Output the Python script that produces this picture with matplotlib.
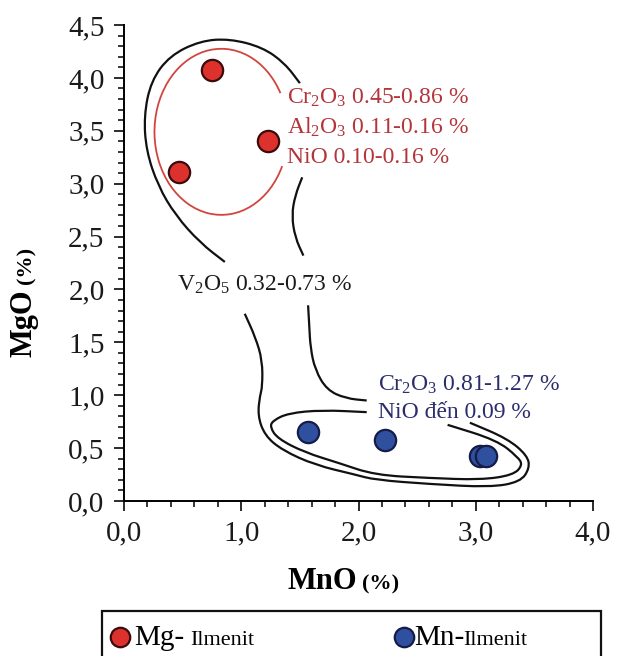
import matplotlib
matplotlib.use('Agg')
import matplotlib.pyplot as plt
from matplotlib.path import Path
from matplotlib.patches import PathPatch, Arc, Rectangle
from matplotlib.lines import Line2D
from matplotlib.ticker import MultipleLocator

plt.rcParams['font.family'] = ['Liberation Serif', 'DejaVu Serif']
plt.rcParams['mathtext.default'] = 'regular'

# Mg-Ilmenit and Mn-Ilmenit points (MnO %, MgO %)
mg_mno = [0.75, 1.23, 0.47]
mg_mgo = [4.07, 3.40, 3.11]
mn_mno = [1.57, 2.23, 3.04, 3.09]
mn_mgo = [0.65, 0.575, 0.43, 0.43]

x_ticks = [0, 1, 2, 3, 4]
x_labels = ['0,0', '1,0', '2,0', '3,0', '4,0']
y_ticks = [0, 0.5, 1.0, 1.5, 2.0, 2.5, 3.0, 3.5, 4.0, 4.5]
y_labels = ['0,0', '0,5', '1,0', '1,5', '2,0', '2,5', '3,0', '3,5', '4,0', '4,5']

# field outlines (MnO, MgO)
outer_top = [(1.50, 3.95), (1.37, 4.14), (1.18, 4.29), (0.90, 4.37), (0.65, 4.35),
             (0.39, 4.21), (0.23, 3.97), (0.17, 3.64), (0.19, 3.31), (0.29, 2.98),
             (0.44, 2.70), (0.65, 2.44), (0.86, 2.26)]
outer_mid = [(1.52, 3.06), (1.46, 2.89), (1.43, 2.70), (1.46, 2.49), (1.53, 2.32)]
right_line = [(1.57, 1.85), (1.58, 1.66), (1.59, 1.45), (1.63, 1.24), (1.73, 1.05),
              (1.89, 0.97), (2.07, 0.95)]
outer_low = [(2.95, 0.74), (3.27, 0.59), (3.44, 0.43), (3.46, 0.31), (3.38, 0.18),
             (3.12, 0.13), (2.61, 0.16), (2.14, 0.20), (1.97, 0.25), (1.63, 0.34),
             (1.35, 0.48), (1.20, 0.62), (1.14, 0.81), (1.16, 1.00), (1.18, 1.08),
             (1.18, 1.33), (1.12, 1.55), (1.03, 1.77)]
inner_low = [(2.07, 0.84), (1.69, 0.86), (1.40, 0.83), (1.27, 0.76), (1.245, 0.70),
             (1.31, 0.59), (1.54, 0.46), (1.83, 0.36), (2.14, 0.245), (2.61, 0.217),
             (3.04, 0.20), (3.32, 0.245), (3.40, 0.34), (3.36, 0.415), (3.18, 0.575),
             (2.76, 0.72)]

red_text = [r'Cr$_2$O$_3$ 0.45-0.86 %', r'Al$_2$O$_3$ 0.11-0.16 %', 'NiO 0.10-0.16 %']
blue_text = [r'Cr$_2$O$_3$ 0.81-1.27 %', 'NiO đến 0.09 %']
v_text = r'V$_2$O$_5$ 0.32-0.73 %'

red_fill, red_edge = '#dc312d', '#3a0c0c'
blue_fill, blue_edge = '#2f4f9f', '#161c48'


def smooth(pts):
    # quadratic bezier through midpoints, traced points as controls
    verts = [pts[0], ((pts[0][0] + pts[1][0]) / 2, (pts[0][1] + pts[1][1]) / 2)]
    codes = [Path.MOVETO, Path.LINETO]
    for i in range(1, len(pts) - 1):
        mid = ((pts[i][0] + pts[i + 1][0]) / 2, (pts[i][1] + pts[i + 1][1]) / 2)
        verts += [pts[i], mid]
        codes += [Path.CURVE3, Path.CURVE3]
    verts.append(pts[-1])
    codes.append(Path.LINETO)
    return Path(verts, codes)


fig = plt.figure(figsize=(6.18, 6.56), dpi=100)
ax = fig.add_axes([124 / 618, 1 - 501 / 656, 469 / 618, 476 / 656])

for line in [outer_top, outer_mid, right_line, outer_low, inner_low]:
    ax.add_patch(PathPatch(smooth(line), fill=False, color='#111111', lw=1.6))

ax.add_patch(Arc((0.83, 3.49), 1.14, 1.57, theta1=36, theta2=328,
                 color='#d0463f', lw=1.3))

ax.scatter(mg_mno, mg_mgo, s=235, c=red_fill, edgecolors=red_edge, linewidths=1.6, zorder=3)
ax.scatter(mn_mno, mn_mgo, s=235, c=blue_fill, edgecolors=blue_edge, linewidths=1.6, zorder=3)

for i, t in enumerate(red_text):
    ax.text(1.39, 3.755 - i * 0.28, t, color='#b3353a', fontsize=17, va='baseline')
ax.text(0.45, 1.99, v_text, color='#1a1a1a', fontsize=17, va='baseline')
for i, t in enumerate(blue_text):
    ax.text(2.17, 1.047 - i * 0.265, t, color='#2a2c6c', fontsize=17, va='baseline')

ax.set_xlim(0, 4)
ax.set_ylim(0, 4.5)
ax.set_xticks(x_ticks)
ax.set_xticklabels(x_labels)
ax.set_yticks(y_ticks)
ax.set_yticklabels(y_labels)
ax.xaxis.set_minor_locator(MultipleLocator(0.2))
ax.yaxis.set_minor_locator(MultipleLocator(0.1))
ax.tick_params(which='major', direction='out', length=7, width=1.3, labelsize=21, pad=7,
               colors='#1a1a1a')
ax.tick_params(which='minor', direction='out', length=4.5, width=1.1)
for s in ['top', 'right']:
    ax.spines[s].set_visible(False)
for s in ['left', 'bottom']:
    ax.spines[s].set_linewidth(1.4)

# axis titles
fig.text(287 / 618, 1 - 589 / 656, 'MnO', fontsize=22, fontweight='bold', va='baseline')
fig.text(362 / 618, 1 - 589 / 656, '(%)', fontsize=16, fontweight='bold', va='baseline')
fig.text(24 / 618, 1 - 357 / 656, 'MgO', fontsize=22, fontweight='bold', rotation=90,
         ha='center', va='bottom')
fig.text(26 / 618, 1 - 284 / 656, '(%)', fontsize=16, fontweight='bold', rotation=90,
         ha='center', va='bottom')

# legend box
fig.add_artist(Rectangle((102 / 618, -0.05), 499 / 618, 0.05 + 1 - 611 / 656,
                         transform=fig.transFigure, fill=False, lw=1.6, color='#111111'))
fig.add_artist(Line2D([120 / 618], [1 - 637 / 656], transform=fig.transFigure, marker='o',
                      markersize=14, markerfacecolor=red_fill, markeredgecolor=red_edge,
                      markeredgewidth=1.6))
fig.add_artist(Line2D([404 / 618], [1 - 637 / 656], transform=fig.transFigure, marker='o',
                      markersize=14, markerfacecolor=blue_fill, markeredgecolor=blue_edge,
                      markeredgewidth=1.6))
fig.text(134 / 618, 1 - 645 / 656, 'Mg-', fontsize=21, va='baseline')
fig.text(190 / 618, 1 - 645 / 656, 'Ilmenit', fontsize=16, va='baseline')
fig.text(414 / 618, 1 - 645 / 656, 'Mn-', fontsize=21, va='baseline')
fig.text(463 / 618, 1 - 645 / 656, 'Ilmenit', fontsize=16, va='baseline')

fig.savefig('out.png', dpi=100)
